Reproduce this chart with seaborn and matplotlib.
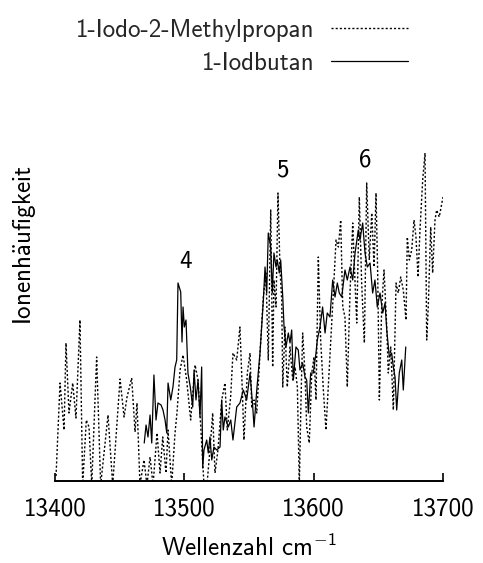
import matplotlib
matplotlib.use("Agg")
import matplotlib.pyplot as plt
import seaborn as sns
import pandas as pd

# 1-Iodo-2-Methylpropan spectrum (dotted)
wn_methylpropan = [
    13400.8, 13403.9, 13407.0, 13408.5, 13410.8, 13413.7, 13416.2, 13419.3, 13421.4, 13424.2,
    13426.3, 13428.4, 13432.2, 13435.3, 13438.7, 13441.0, 13444.6, 13450.3, 13453.4, 13455.7,
    13459.3, 13461.9, 13463.4, 13465.7, 13468.8, 13471.1, 13473.5, 13475.8, 13478.9, 13481.2,
    13483.3, 13485.8, 13487.4, 13490.2, 13492.8, 13494.3, 13496.7, 13499.0, 13501.8, 13504.9,
    13508.3, 13510.6, 13512.7, 13515.2, 13517.5, 13520.4, 13521.9, 13523.7, 13526.0, 13528.9,
    13531.4, 13533.2, 13535.8, 13537.6, 13540.5, 13543.0, 13545.1, 13546.1, 13548.7, 13550.8,
    13552.1, 13553.9, 13556.0, 13558.5, 13561.1, 13563.1, 13564.9, 13566.8, 13568.3, 13569.3,
    13570.9, 13572.4, 13574.0, 13575.3, 13576.1, 13577.8, 13579.6, 13581.7, 13583.8, 13585.6,
    13587.4, 13588.9, 13590.2, 13591.5, 13593.3, 13594.6, 13596.6, 13598.5, 13600.3, 13601.8,
    13603.6, 13605.4, 13607.5, 13609.5, 13611.3, 13613.2, 13615.2, 13617.3, 13619.1, 13620.9,
    13622.5, 13624.2, 13626.0, 13628.1, 13630.2, 13632.0, 13633.3, 13635.3, 13637.1, 13639.2,
    13641.0, 13643.0, 13644.9, 13646.7, 13648.2, 13649.5, 13650.8, 13652.6, 13654.4, 13656.5,
    13657.7, 13659.6, 13661.6, 13663.7, 13665.4, 13667.3, 13669.3, 13671.4, 13672.4, 13674.0,
    13675.8, 13677.6, 13679.1, 13680.7, 13682.2, 13684.3, 13686.1, 13687.4, 13688.6, 13690.5,
    13692.0, 13693.8, 13695.1, 13697.1, 13700.0,
]
int_methylpropan = [
    5, 98, 51, 138, 68, 98, 63, 161, -4, 61,
    54, -4, 124, -4, 38, 66, -4, 102, 64, 84,
    103, 49, 78, -4, 21, -4, 24, -4, 48, 8,
    44, 8, 51, -4, 48, 68, 111, 126, 101, 61,
    116, 101, 54, -4, -4, 41, 68, 8, 31, 81,
    98, 51, 84, 128, 121, 154, 81, 41, 108, 128,
    74, 81, 68, 128, 184, 208, 121, 271, 114, 201,
    174, 288, 211, 181, 94, 154, 94, 134, 101, 114,
    94, -4, 81, 148, 108, 54, 38, 108, 124, 81,
    224, 141, 91, 51, 94, 141, 188, 241, 234, 261,
    174, 164, 94, 188, 258, 198, 158, 284, 198, 138,
    298, 221, 268, 214, 288, 208, 81, 174, 211, 154,
    108, 134, 71, 198, 188, 204, 191, 161, 244, 221,
    231, 261, 244, 204, 251, 301, 328, 141, 174, 254,
    208, 261, 271, 264, 284,
]

# 1-Iodbutan spectrum (solid)
wn_butan = [
    13469.0, 13470.4, 13471.9, 13473.5, 13474.8, 13476.5, 13478.1, 13479.6, 13482.0, 13483.5,
    13485.1, 13486.4, 13487.4, 13489.5, 13491.2, 13492.8, 13494.1, 13495.1, 13497.2, 13498.2,
    13499.0, 13500.0, 13501.3, 13502.8, 13504.6, 13506.5, 13507.5, 13509.0, 13510.6, 13512.1,
    13513.4, 13514.2, 13515.2, 13517.3, 13518.5, 13519.8, 13521.2, 13522.9, 13525.0, 13527.6,
    13528.9, 13530.1, 13531.4, 13534.0, 13535.9, 13537.6, 13540.5, 13543.0, 13545.6, 13548.2,
    13550.8, 13552.9, 13553.9, 13556.0, 13558.5, 13561.1, 13562.4, 13563.7, 13564.9, 13566.8,
    13568.0, 13569.3, 13570.9, 13571.9, 13573.4, 13574.5, 13576.1, 13577.1, 13578.6, 13580.4,
    13581.7, 13583.0, 13584.3, 13586.3, 13588.1, 13589.4, 13591.5, 13593.3, 13594.6, 13595.9,
    13597.7, 13599.7, 13601.8, 13602.8, 13604.9, 13606.9, 13608.8, 13610.5, 13612.6, 13614.7,
    13616.5, 13618.3, 13619.8, 13621.7, 13624.2, 13626.0, 13628.1, 13630.2, 13632.0, 13634.5,
    13635.8, 13637.9, 13639.7, 13641.5, 13643.6, 13645.6, 13647.4, 13649.2, 13651.3, 13653.4,
    13655.2, 13656.5, 13658.5, 13660.3, 13661.6, 13662.9, 13664.2, 13666.2, 13668.1, 13669.3,
    13671.2,
]
int_butan = [
    38, 56, 44, 66, 38, 106, 61, 78, 76, 71,
    61, 48, 98, 81, 94, 114, 121, 198, 189, 139,
    174, 154, 161, 108, 94, 74, 111, 81, 101, 64,
    114, 13, 31, 41, 28, 44, 21, 34, 31, 34,
    81, 51, 64, 54, 61, 41, 74, 78, 91, 81,
    108, 74, 54, 91, 128, 181, 214, 188, 248, 234,
    188, 228, 214, 221, 208, 221, 184, 154, 134, 148,
    138, 151, 101, 134, 131, 111, 118, 104, 101, 68,
    108, 108, 128, 141, 154, 174, 148, 168, 164, 201,
    184, 198, 188, 184, 211, 201, 214, 201, 228, 251,
    241, 258, 228, 214, 218, 188, 201, 174, 188, 168,
    178, 151, 124, 128, 114, 104, 71, 108, 121, 91,
    134,
]

series_names = ["1-Iodo-2-Methylpropan", "1-Iodbutan"]
x_ticks = [13400, 13500, 13600, 13700]

# Band labels: (text, wavenumber, intensity)
band_labels = ["4", "5", "6"]
band_wn = [13501.3, 13575.5, 13639.7]
band_int = [219, 311, 321]

sns.set_theme(style="white")
plt.rcParams.update({
    "font.family": "cmss10",
    "mathtext.fontset": "custom",
    "mathtext.rm": "cmss10",
    "mathtext.sf": "cmss10",
    "mathtext.it": "cmss10",
    "axes.formatter.use_mathtext": False,
    "font.size": 18,
})

df_m = pd.DataFrame({"wn": wn_methylpropan, "I": int_methylpropan})
df_b = pd.DataFrame({"wn": wn_butan, "I": int_butan})

fig = plt.figure(figsize=(4.83, 5.63), dpi=100)
ax = fig.add_axes([55 / 483, 82 / 563, 388 / 483, 472 / 563])

sns.lineplot(data=df_m, x="wn", y="I", ax=ax, color="black", linewidth=1.0,
             estimator=None, sort=False, label=series_names[0])
sns.lineplot(data=df_b, x="wn", y="I", ax=ax, color="black", linewidth=0.9,
             estimator=None, sort=False, label=series_names[1])
ax.lines[0].set_linestyle((0, (1.5, 1.5)))

ax.set_xlim(13400, 13700)
ax.set_ylim(0, 472)
ax.set_xticks(x_ticks)
ax.set_xticklabels([str(t) for t in x_ticks])
ax.set_yticks([])
ax.tick_params(axis="x", direction="in", length=6, width=1.2, bottom=True,
               labelsize=18, pad=12, color="black", labelcolor="black")

for side in ["top", "right", "left"]:
    ax.spines[side].set_visible(False)
ax.spines["bottom"].set_linewidth(1.4)
ax.spines["bottom"].set_color("black")

ax.set_xlabel(r"Wellenzahl cm$^{-1}$", fontsize=18, labelpad=10, color="black")
ax.set_ylabel(r"Ionenh$\ddot{\mathrm{a}}$ufigkeit", fontsize=18, labelpad=12, color="black")

for txt, xw, yi in zip(band_labels, band_wn, band_int):
    ax.text(xw, yi, txt, ha="center", va="center", fontsize=18, color="black")

leg = ax.legend(loc="upper right", frameon=False, markerfirst=False,
                bbox_to_anchor=(408 / 483, 1 - 19 / 563), bbox_transform=fig.transFigure,
                borderpad=0, borderaxespad=0, handlelength=3.1, handletextpad=0.65,
                labelspacing=0.4, fontsize=18)

fig.savefig("out.png", dpi=100)
